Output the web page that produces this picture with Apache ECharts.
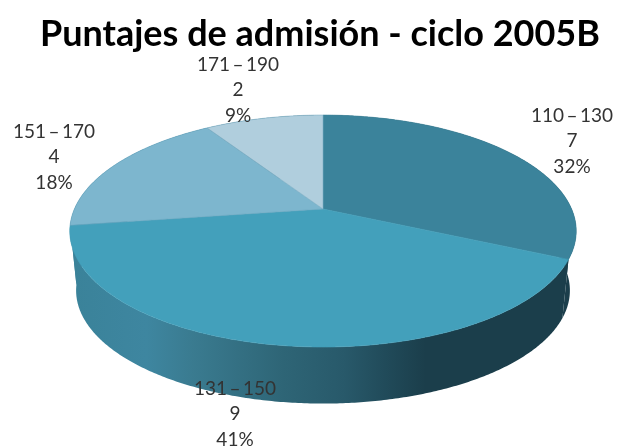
<!DOCTYPE html>
<html>
<head>
<meta charset="utf-8">
<style>html,body{margin:0;padding:0;background:#fff}#c{width:619px;height:448px}</style>
<script src="https://cdn.jsdelivr.net/npm/echarts@6/dist/echarts.min.js"></script>
</head>
<body>
<div id="c"></div>
<script>
var titleText = 'Puntajes de admisión - ciclo 2005B';
var categories = ['110\u2009–\u2009130', '131\u2009–\u2009150', '151\u2009–\u2009170', '171\u2009–\u2009190'];
var counts = [7, 9, 4, 2];
var percents = ['32%', '41%', '18%', '9%'];

var sliceColors = ['#3b839b', '#43a0bb', '#7db6ce', '#b0cedd'];
var edgeColors = ['#3b839b', '#43a0bb', '#6aa6bf', '#7fb0c6'];
var labelCenters = [[572, 141], [235, 414], [54, 157], [238, 90]];

// Projection of a flat disc seen in perspective
var TOP = {cx: 323, cy: 209, rx: 248.6, ry: 111.8, k: 0.19};
var BOTTOM = {cx: 323, cy: 269, rx: 242.4, ry: 109, k: 0.19};
function project(d, angle) {
  var u = Math.sin(angle), v = -Math.cos(angle), w = 1 - d.k * v;
  return [d.cx + d.rx * u / w, d.cy + d.ry * v / w];
}
var total = counts.reduce(function (a, b) { return a + b; }, 0);
function sliceRange(index) {
  var before = 0;
  for (var i = 0; i < index; i++) before += counts[i];
  return [before / total * Math.PI * 2, (before + counts[index]) / total * Math.PI * 2];
}
function arc(d, a0, a1) {
  var n = Math.max(4, Math.ceil(Math.abs(a1 - a0) / 0.01)), pts = [];
  for (var i = 0; i <= n; i++) pts.push(project(d, a0 + (a1 - a0) * i / n));
  return pts;
}
var sideFill = new echarts.graphic.LinearGradient(70, 0, 578, 0, [
  {offset: 0, color: '#3a8299'},
  {offset: 0.15, color: '#3e86a0'},
  {offset: 0.24, color: '#3a7b90'},
  {offset: 0.42, color: '#2e6576'},
  {offset: 0.54, color: '#28596a'},
  {offset: 0.62, color: '#214b5a'},
  {offset: 0.70, color: '#1b3e4b'},
  {offset: 1, color: '#1b3e4b'}
], true);

function renderSide(params) {
  var r = sliceRange(params.dataIndex);
  var pts = arc(TOP, r[0], r[1]).concat(arc(BOTTOM, r[1], r[0]));
  return {type: 'polygon', shape: {points: pts}, style: {fill: sideFill, stroke: null}};
}
function renderTop(params) {
  var i = params.dataIndex, r = sliceRange(i);
  var pts = [[TOP.cx, TOP.cy]].concat(arc(TOP, r[0], r[1]));
  return {type: 'polygon', shape: {points: pts},
    style: {fill: sliceColors[i], stroke: edgeColors[i], lineWidth: 0.6}};
}
function renderLabel(params) {
  var i = params.dataIndex, c = labelCenters[i];
  return {type: 'text', x: c[0], y: c[1], style: {
    text: categories[i] + '\n' + counts[i] + '\n' + percents[i],
    fontFamily: 'Lato', fontSize: 19, lineHeight: 25.5, fill: '#333',
    align: 'center', verticalAlign: 'middle'}};
}
var rows = counts.map(function (v) { return [v]; });
var chart = echarts.init(document.getElementById('c'), null, {renderer: 'canvas'});
chart.setOption({
  animation: false,
  backgroundColor: '#ffffff',
  title: {text: titleText, left: 35, top: 11,
    textStyle: {fontFamily: 'Lato', fontWeight: 'bold', fontSize: 36, color: '#000'}},
  series: [
    {type: 'custom', coordinateSystem: 'none', renderItem: renderSide, data: rows, z: 1, silent: true},
    {type: 'custom', coordinateSystem: 'none', renderItem: renderTop, data: rows, z: 2, silent: true},
    {type: 'custom', coordinateSystem: 'none', renderItem: renderLabel, data: rows, z: 3, silent: true}
  ]
});
</script>
</body>
</html>
